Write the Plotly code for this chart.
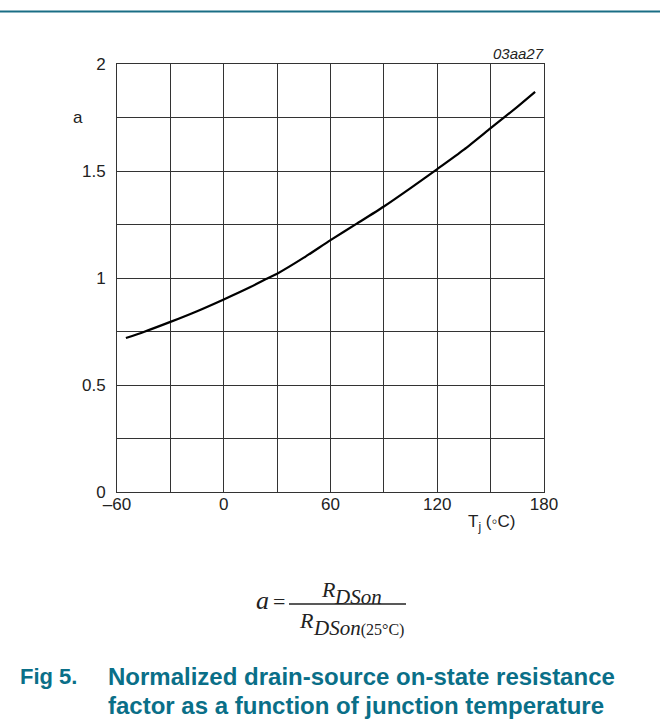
import plotly.graph_objects as go

# Data
temp_c = [-55, -45, -30, -15, 0, 15, 25, 30, 45, 60, 75, 90, 105, 120, 135, 150, 165, 175]
a_factor = [0.72, 0.748, 0.795, 0.845, 0.90, 0.958, 1.0, 1.02, 1.095, 1.177, 1.255, 1.334, 1.42, 1.509, 1.60, 1.70, 1.80, 1.87]

x_tickvals = [-60, -30, 0, 30, 60, 90, 120, 150, 180]
x_ticktext = ["–60", "", "0", "", "60", "", "120", "", "180"]
y_tickvals = [0, 0.25, 0.5, 0.75, 1, 1.25, 1.5, 1.75, 2]
y_ticktext = ["0", "", "0.5", "", "1", "", "1.5", "", "2"]

W, H = 660, 724
L, R, T, B = 117, 116, 64, 232
PW, PH = W - L - R, H - T - B

def px(x):
    return (x - L) / PW

def py(y):
    return (H - B - y) / PH

TEAL = "#0a6f88"
GRID = "#333333"

fig = go.Figure()
fig.add_trace(go.Scatter(
    x=temp_c, y=a_factor, mode="lines",
    line=dict(color="black", width=2.2, shape="spline", smoothing=0.6),
    hoverinfo="skip", showlegend=False,
))

fig.update_layout(
    width=W, height=H,
    margin=dict(l=L, r=R, t=T, b=B, pad=0),
    paper_bgcolor="white", plot_bgcolor="white",
    font=dict(family="Liberation Sans, Arial, sans-serif", size=17, color="#222"),
    showlegend=False,
)
fig.update_xaxes(
    range=[-60, 180], tickvals=x_tickvals, ticktext=x_ticktext,
    showgrid=True, gridcolor=GRID, gridwidth=1,
    showline=True, linecolor=GRID, linewidth=1, mirror=True,
    ticks="", zeroline=False, fixedrange=True,
    tickfont=dict(size=17, color="#222"), ticklabelstandoff=-3,
)
fig.update_yaxes(
    range=[0, 2], tickvals=y_tickvals, ticktext=y_ticktext,
    showgrid=True, gridcolor=GRID, gridwidth=1,
    showline=True, linecolor=GRID, linewidth=1, mirror=True,
    ticks="", zeroline=False, fixedrange=True,
    tickfont=dict(size=17, color="#222"), ticklabelstandoff=7,
)

ann = []
def add(text, x, y, xanchor="center", yanchor="middle", size=16, color="#222", family=None):
    d = dict(text=text, x=px(x), y=py(y), xref="paper", yref="paper",
             xanchor=xanchor, yanchor=yanchor, showarrow=False,
             font=dict(size=size, color=color))
    if family:
        d["font"]["family"] = family
    ann.append(d)

add("a", 78, 117, size=17)
add("<i>03aa27</i>", 546, 54, xanchor="right", size=15)
add("T<sub>j</sub> (◦C)", 466, 523, xanchor="left", size=17)

SERIF = "Liberation Serif, Times New Roman, serif"
add("<i>a</i>", 262, 600, size=26, family=SERIF)
add("=", 279, 601, size=22, family=SERIF)
add("<i>R</i>", 319, 589, xanchor="left", size=22, family=SERIF)
add("<i>DSon</i>", 332, 597, xanchor="left", size=21, family=SERIF)
add("<i>R</i>", 297, 620, xanchor="left", size=22, family=SERIF)
add("<i>DSon</i><span style='font-size:16px'>(25°C)</span>", 311, 628, xanchor="left", size=21, family=SERIF)

add("<b>Fig 5.</b>", 18, 676, xanchor="left", size=22, color=TEAL)
add("<b>Normalized drain-source on-state resistance</b>", 106, 676, xanchor="left", size=24, color=TEAL)
add("<b>factor as a function of junction temperature</b>", 106, 705, xanchor="left", size=24, color=TEAL)

fig.update_layout(annotations=ann)

fig.add_shape(type="line", xref="paper", yref="paper",
              x0=px(0), x1=px(W), y0=py(11.5), y1=py(11.5),
              line=dict(color="#1a6e85", width=2))
fig.add_shape(type="line", xref="paper", yref="paper",
              x0=px(289), x1=px(406), y0=py(604), y1=py(604),
              line=dict(color="#222", width=1.3))

fig.write_html("out.html", config={"displayModeBar": False},
               post_script="document.body.style.margin='0';document.body.style.overflow='hidden';")
